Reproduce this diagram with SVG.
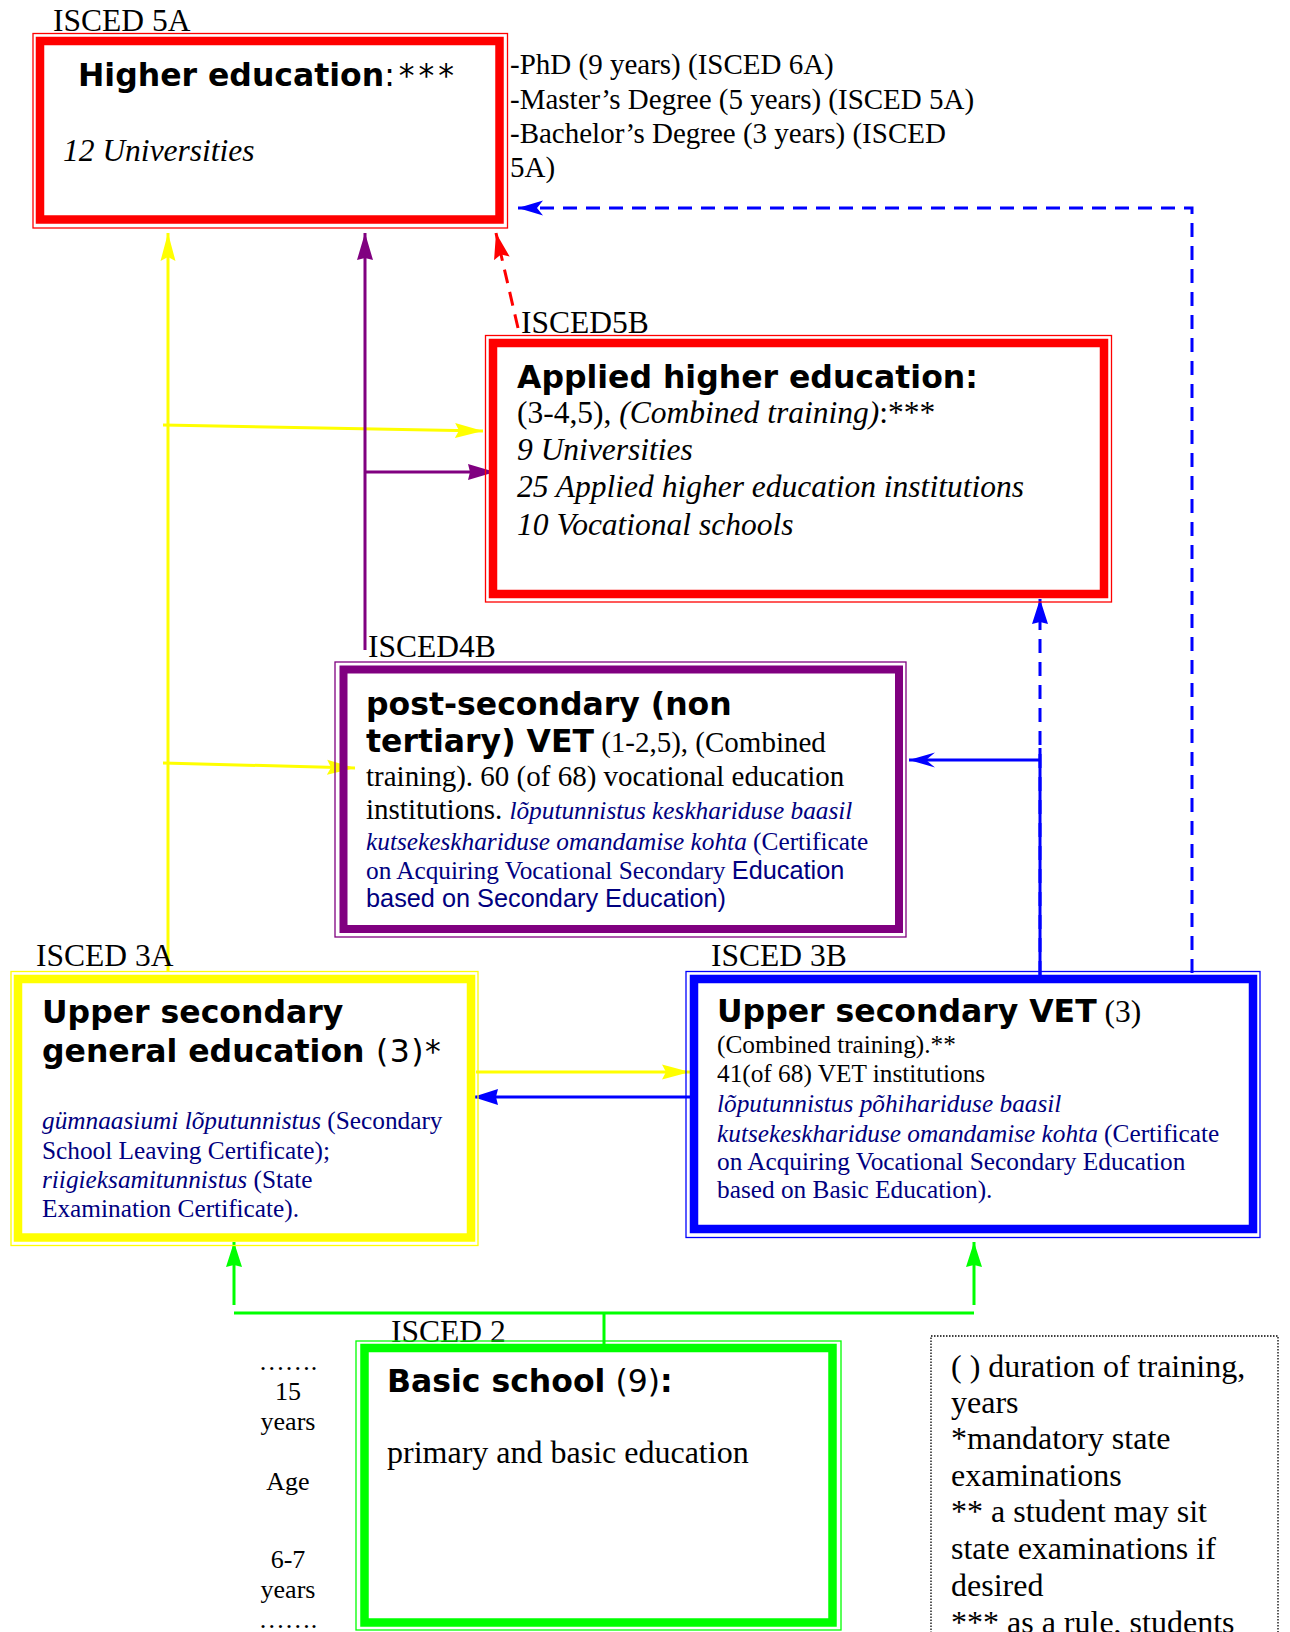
<svg xmlns="http://www.w3.org/2000/svg" width="1290" height="1632" viewBox="0 0 1290 1632">
<style>
text{font-family:"Liberation Serif","Times New Roman",serif;fill:#000}
.h{font-family:"DejaVu Sans",Verdana,sans-serif;font-weight:bold;font-size:31.5px}
.hn{font-weight:normal}
.ser{font-family:"Liberation Serif","Times New Roman",serif;font-weight:normal}
.s32{font-size:31.5px}
.s29{font-size:29px}
.s25{font-size:25.3px}
.s26{font-size:26px}
.lg{font-size:32px}
.it{font-style:italic}
.nv{fill:#000080}
.ar{font-family:"Liberation Sans",Arial,sans-serif}
.thin{fill:none;stroke-width:1.3}
.thick{fill:none;stroke-width:8.5}
.c{fill:none;stroke-width:3}
.dash{stroke-dasharray:14 9}
</style>
<defs>
<marker id="mY" markerUnits="userSpaceOnUse" viewBox="0 -10 30 20" markerWidth="30" markerHeight="20" refX="28" refY="0" orient="auto"><path d="M0,-7.5 L28,0 L0,7.5 L4,0 z" fill="#FFFF00"/></marker>
<marker id="mP" markerUnits="userSpaceOnUse" viewBox="0 -10 30 20" markerWidth="30" markerHeight="20" refX="27" refY="0" orient="auto"><path d="M0,-8 L27,0 L0,8 L2,0 z" fill="#800080"/></marker>
<marker id="mR" markerUnits="userSpaceOnUse" viewBox="0 -10 30 20" markerWidth="30" markerHeight="20" refX="26" refY="0" orient="auto"><path d="M0,-8 L26,0 L0,8 L4,0 z" fill="#FF0000"/></marker>
<marker id="mB" markerUnits="userSpaceOnUse" viewBox="0 -10 30 20" markerWidth="30" markerHeight="20" refX="25" refY="0" orient="auto"><path d="M0,-8 L25,0 L0,8 L2,0 z" fill="#0000FF"/></marker>
<marker id="mBs" markerUnits="userSpaceOnUse" viewBox="0 -10 30 20" markerWidth="30" markerHeight="20" refX="25" refY="0" orient="auto"><path d="M0,-7.5 L25,0 L0,7.5 L6,0 z" fill="#0000FF"/></marker>
<marker id="mBt" markerUnits="userSpaceOnUse" viewBox="0 -10 30 20" markerWidth="30" markerHeight="20" refX="26" refY="0" orient="auto"><path d="M0,-7.5 L26,0 L0,7.5 L9,0 z" fill="#0000FF"/></marker>
<marker id="mG" markerUnits="userSpaceOnUse" viewBox="0 -10 30 20" markerWidth="30" markerHeight="20" refX="25" refY="0" orient="auto"><path d="M0,-8 L25,0 L0,8 L2,0 z" fill="#00FF00"/></marker>
</defs>

<g id="connectors">
<path class="c" stroke="#FFFF00" d="M168,972 V233" marker-end="url(#mY)"/>
<path class="c" stroke="#FFFF00" d="M163,425 L483,431" marker-end="url(#mY)"/>
<path class="c" stroke="#FFFF00" d="M163,763 L355,768" marker-end="url(#mY)"/>
<path class="c" stroke="#FFFF00" d="M476,1072 H690" marker-end="url(#mY)"/>
<path class="c" stroke="#800080" d="M365,650 V233" marker-end="url(#mP)"/>
<path class="c" stroke="#800080" d="M365,472 H495" marker-end="url(#mP)"/>
<path class="c dash" stroke="#FF0000" d="M518,328 L496,233" marker-end="url(#mR)"/>
<path class="c dash" stroke="#0000FF" d="M1192,973 V208 H518" marker-end="url(#mBs)"/>
<path class="c dash" stroke="#0000FF" d="M1040,975 V599" marker-end="url(#mB)"/>
<path class="c" stroke="#0000FF" d="M1040,975 V748"/>
<path class="c" stroke="#0000FF" d="M1040,760 H909" marker-end="url(#mBt)"/>
<path class="c" stroke="#0000FF" d="M690,1097 H473" marker-end="url(#mB)"/>
<path class="c" stroke="#00FF00" d="M234,1305 V1242" marker-end="url(#mG)"/>
<path class="c" stroke="#00FF00" d="M974,1305 V1242" marker-end="url(#mG)"/>
<path class="c" stroke="#00FF00" d="M234,1313 H974"/>
<path class="c" stroke="#00FF00" d="M604,1313 V1345"/>
</g>

<g id="higher-education">
<text class="s32" x="53" y="31">ISCED 5A</text>
<rect class="thin" stroke="#FF0000" x="33" y="33.5" width="474.5" height="194.5"/>
<rect class="thick" stroke="#FF0000" x="40" y="41" width="459.5" height="178.5" fill="#fff"/>
<text class="h" x="78" y="86">Higher education<tspan class="hn" letter-spacing="4">:***</tspan></text>
<text class="s32 it" x="63" y="161">12 Universities</text>
<text class="s29" x="510" y="74">-PhD (9 years) (ISCED 6A)</text>
<text class="s29" x="510" y="108.5">-Master’s Degree (5 years) (ISCED 5A)</text>
<text class="s29" x="510" y="143">-Bachelor’s Degree (3 years) (ISCED</text>
<text class="s29" x="510" y="177">5A)</text>
</g>

<g id="applied-higher-education">
<text class="s32" x="521" y="333">ISCED5B</text>
<rect class="thin" stroke="#FF0000" x="485.5" y="335.5" width="626" height="266.5"/>
<rect class="thick" stroke="#FF0000" x="493" y="343" width="611" height="251"/>
<text class="h" x="517" y="388">Applied higher education:</text>
<text class="s32" x="517" y="423">(3-4,5), <tspan class="it">(Combined training)</tspan>:***</text>
<text class="s32 it" x="517" y="460">9 Universities</text>
<text class="s32 it" x="517" y="497">25 Applied higher education institutions</text>
<text class="s32 it" x="517" y="535">10 Vocational schools</text>
</g>

<g id="post-secondary">
<text class="s32" x="368" y="657">ISCED4B</text>
<rect class="thin" stroke="#800080" x="335" y="662" width="571" height="275"/>
<rect class="thick" stroke="#800080" x="343.5" y="669.5" width="555.5" height="259.5" style="stroke-width:8"/>
<text class="h" x="366" y="715">post-secondary (non</text>
<text class="h" x="366" y="752">tertiary) VET<tspan class="ser s29"> (1-2,5), (Combined</tspan></text>
<text class="s29" x="366" y="786">training). 60 (of 68) vocational education</text>
<text class="s29" x="366" y="819">institutions. <tspan class="s25 it nv">lõputunnistus keskhariduse baasil</tspan></text>
<text class="s25 nv" x="366" y="850"><tspan class="it">kutsekeskhariduse omandamise kohta</tspan> (Certificate</text>
<text class="s25 nv" x="366" y="879">on Acquiring Vocational Secondary <tspan class="ar">Education</tspan></text>
<text class="s25 nv ar" x="366" y="907">based on Secondary Education)</text>
</g>

<g id="upper-secondary-general">
<text class="s32" x="36" y="966">ISCED 3A</text>
<rect class="thin" stroke="#FFFF00" x="11" y="971.5" width="467" height="274"/>
<rect class="thick" stroke="#FFFF00" x="18" y="979" width="453" height="258.5"/>
<text class="h" x="42" y="1023">Upper secondary</text>
<text class="h" x="42" y="1062">general education<tspan class="hn" letter-spacing="1.5"> (3)*</tspan></text>
<text class="s25 nv" x="42" y="1129"><tspan class="it">gümnaasiumi lõputunnistus</tspan> (Secondary</text>
<text class="s25 nv" x="42" y="1159">School Leaving Certificate);</text>
<text class="s25 nv" x="42" y="1188"><tspan class="it">riigieksamitunnistus</tspan> (State</text>
<text class="s25 nv" x="42" y="1217">Examination Certificate).</text>
</g>

<g id="upper-secondary-vet">
<text class="s32" x="711" y="966">ISCED 3B</text>
<rect class="thin" stroke="#0000FF" x="686" y="971.5" width="574" height="266"/>
<rect class="thick" stroke="#0000FF" x="694" y="979" width="559" height="250"/>
<text class="h" x="717" y="1022">Upper secondary VET<tspan class="ser s32"> (3)</tspan></text>
<text class="s25" x="717" y="1053">(Combined training).**</text>
<text class="s25" x="717" y="1082">41(of 68) VET institutions</text>
<text class="s25 nv it" x="717" y="1112">lõputunnistus põhihariduse baasil</text>
<text class="s25 nv" x="717" y="1142"><tspan class="it">kutsekeskhariduse omandamise kohta</tspan> (Certificate</text>
<text class="s25 nv" x="717" y="1170">on Acquiring Vocational Secondary Education</text>
<text class="s25 nv" x="717" y="1198">based on Basic Education).</text>
</g>

<g id="basic-school">
<text class="s32" x="391" y="1342">ISCED 2</text>
<rect class="thin" stroke="#00FF00" x="356" y="1341" width="485" height="289"/>
<rect class="thick" stroke="#00FF00" x="364.5" y="1348" width="468" height="274.5"/>
<text class="h" x="387" y="1392">Basic school<tspan class="hn"> (9)</tspan>:</text>
<text x="387" y="1463" style="font-size:32px">primary and basic education</text>
</g>

<g id="age-scale" text-anchor="middle">
<text class="s26" x="288" y="1370">…….</text>
<text class="s26" x="288" y="1400">15</text>
<text class="s26" x="288" y="1430">years</text>
<text class="s26" x="288" y="1490">Age</text>
<text class="s26" x="288" y="1568">6-7</text>
<text class="s26" x="288" y="1598">years</text>
<text class="s26" x="288" y="1628">…….</text>
</g>

<g id="legend">
<rect x="931" y="1336" width="347" height="310" fill="none" stroke="#000" stroke-width="1.3" stroke-dasharray="1.5 1.5"/>
<text class="lg" x="951" y="1377">( ) duration of training,</text>
<text class="lg" x="951" y="1413">years</text>
<text class="lg" x="951" y="1449">*mandatory state</text>
<text class="lg" x="951" y="1486">examinations</text>
<text class="lg" x="951" y="1522">** a student may sit</text>
<text class="lg" x="951" y="1559">state examinations if</text>
<text class="lg" x="951" y="1596">desired</text>
<text class="lg" x="951" y="1633">*** as a rule, students</text>
</g>
</svg>
